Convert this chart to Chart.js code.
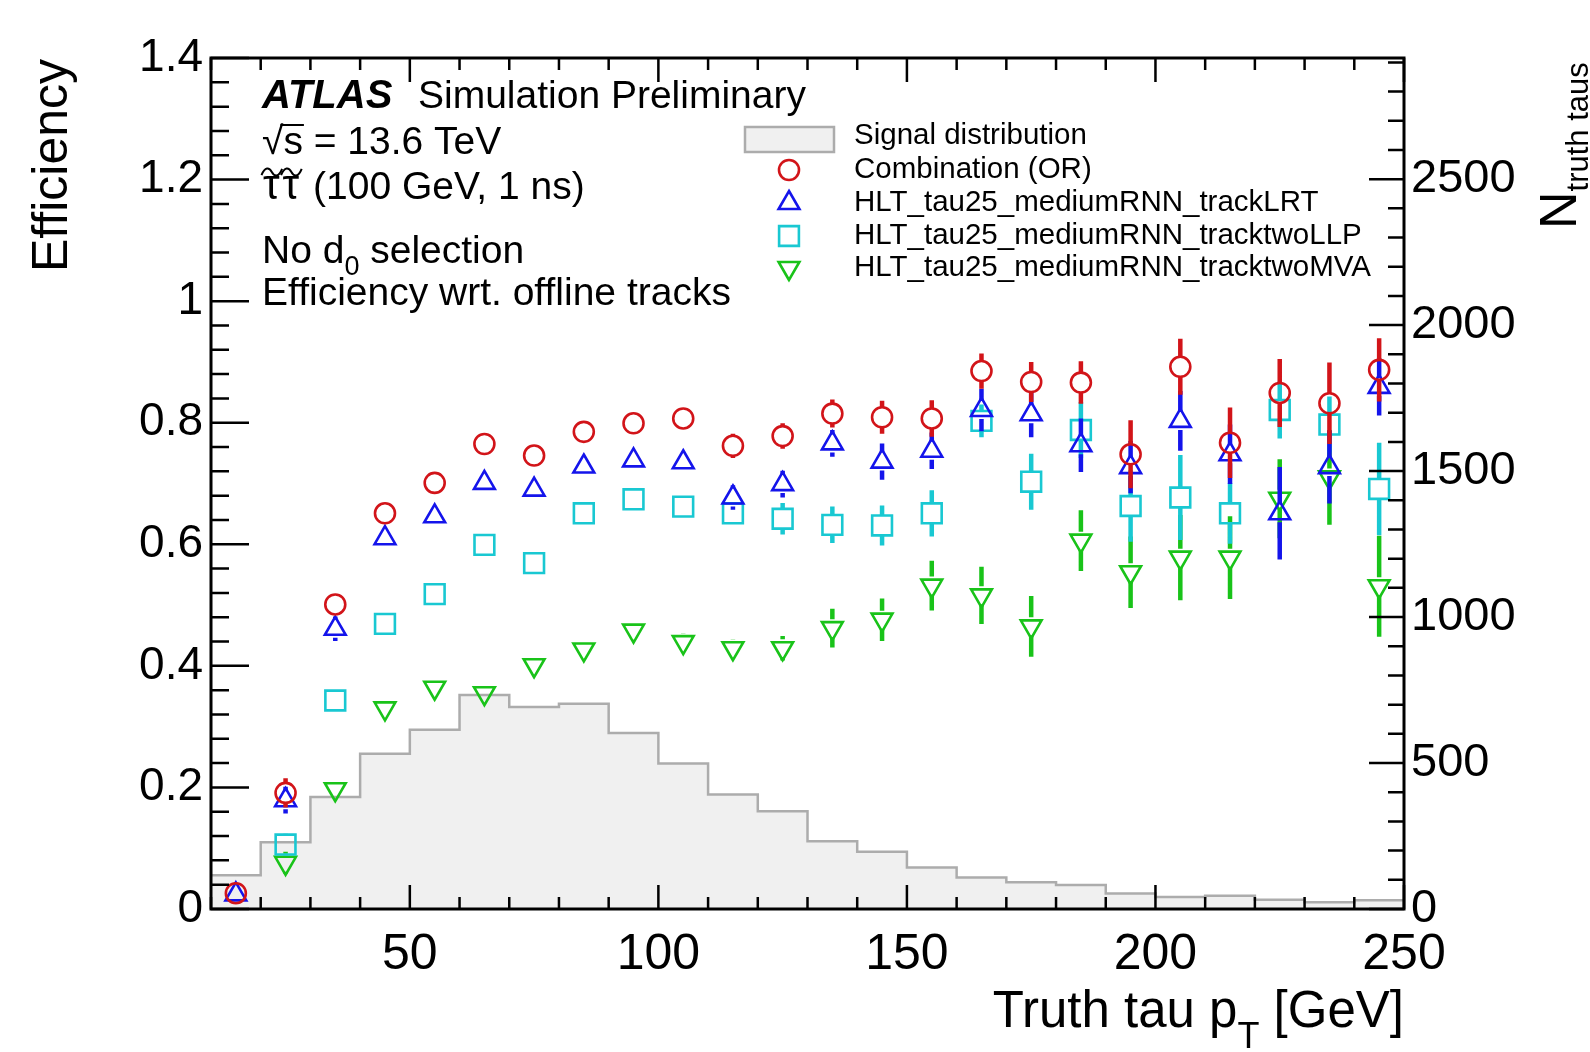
<!DOCTYPE html>
<html>
<head>
<meta charset="utf-8">
<script src="https://cdn.jsdelivr.net/npm/chart.js@4.4.1/dist/chart.umd.min.js"></script>
<style>
  html, body { margin: 0; padding: 0; background: #fff; }
  canvas { display: block; }
</style>
</head>
<body>
<canvas id="chartCanvas" width="1590" height="1052"></canvas>
<script>
"use strict";

// bin centres in truth tau pT [GeV]
const ptBins = [15, 25, 35, 45, 55, 65, 75, 85, 95, 105, 115, 125, 135, 145, 155, 165, 175, 185, 195, 205, 215, 225, 235, 245];

// Combination (OR)
const effOR = [0.026, 0.191, 0.501, 0.651, 0.701, 0.765, 0.746, 0.785, 0.799, 0.807, 0.762, 0.778, 0.815, 0.809, 0.807, 0.885, 0.867, 0.866, 0.748, 0.892, 0.767, 0.849, 0.832, 0.887];
const errOR = [0.008, 0.024, 0.016, 0.012, 0.010, 0.008, 0.008, 0.008, 0.008, 0.009, 0.020, 0.021, 0.023, 0.027, 0.030, 0.029, 0.033, 0.035, 0.056, 0.046, 0.058, 0.056, 0.067, 0.052];

// HLT_tau25_mediumRNN_trackLRT
const effLRT = [0.024, 0.179, 0.461, 0.610, 0.646, 0.701, 0.690, 0.728, 0.738, 0.735, 0.677, 0.699, 0.766, 0.736, 0.754, 0.821, 0.814, 0.763, 0.727, 0.803, 0.748, 0.651, 0.727, 0.859];
const errLRT = [0.008, 0.022, 0.020, 0.013, 0.010, 0.009, 0.008, 0.008, 0.009, 0.012, 0.020, 0.022, 0.022, 0.030, 0.030, 0.035, 0.038, 0.044, 0.043, 0.049, 0.049, 0.076, 0.060, 0.047];

// HLT_tau25_mediumRNN_tracktwoLLP
const effLLP = [null, 0.106, 0.343, 0.469, 0.518, 0.599, 0.569, 0.651, 0.674, 0.662, 0.651, 0.642, 0.632, 0.631, 0.651, 0.803, 0.703, 0.788, 0.663, 0.677, 0.651, 0.821, 0.797, 0.691];
const errLLP = [0, 0.018, 0.016, 0.014, 0.012, 0.010, 0.010, 0.010, 0.011, 0.012, 0.014, 0.026, 0.030, 0.033, 0.038, 0.027, 0.046, 0.046, 0.059, 0.070, 0.050, 0.047, 0.046, 0.076];

// HLT_tau25_mediumRNN_tracktwoMVA
const effMVA = [null, 0.076, 0.197, 0.330, 0.364, 0.355, 0.401, 0.427, 0.458, 0.439, 0.429, 0.429, 0.462, 0.476, 0.532, 0.516, 0.465, 0.606, 0.554, 0.578, 0.578, 0.675, 0.710, 0.531];
const errMVA = [0, 0.018, 0.012, 0.012, 0.012, 0.010, 0.012, 0.012, 0.015, 0.015, 0.015, 0.020, 0.032, 0.035, 0.041, 0.047, 0.050, 0.050, 0.059, 0.070, 0.068, 0.065, 0.078, 0.083];

// signal distribution (right axis), bin low edges + last upper edge
const histEdges = [10, 20, 30, 40, 50, 60, 70, 80, 90, 100, 110, 120, 130, 140, 150, 160, 170, 180, 190, 200, 210, 220, 230, 240, 250];
const histCounts = [116, 229, 384, 532, 614, 733, 692, 703, 603, 498, 392, 335, 232, 196, 142, 108, 92, 82, 53, 41, 45, 32, 23, 30];

const xTicks = [50, 100, 150, 200, 250];
const effTicks = [0, 0.2, 0.4, 0.6, 0.8, 1, 1.2, 1.4];
const countTicks = [0, 500, 1000, 1500, 2000, 2500];

const FONT = '"Liberation Sans", Arial, Helvetica, sans-serif';
Chart.defaults.font.family = FONT;
Chart.defaults.color = '#000';

const RED = 'rgb(210, 20, 25)';
const BLUE = 'rgb(20, 20, 235)';
const CYAN = 'rgb(25, 200, 210)';
const GREEN = 'rgb(25, 195, 25)';

function points(eff, err) {
    const out = [];
    ptBins.forEach((x, i) => {
        if (eff[i] !== null) out.push({ x: x, y: eff[i], err: err[i] });
    });
    return out;
}

const histData = histCounts.map((c, i) => ({ x: histEdges[i], y: c }));
histData.push({ x: histEdges[histEdges.length - 1], y: histCounts[histCounts.length - 1] });

const markerBase = {
    backgroundColor: 'rgba(0,0,0,0)',
    borderWidth: 2.6,
    hoverRadius: 0
};

const datasets = [
    Object.assign({}, markerBase, {
        label: 'Combination (OR)', data: points(effOR, errOR), order: 0,
        pointStyle: 'circle', pointRadius: 10, borderColor: RED, gap: 10
    }),
    Object.assign({}, markerBase, {
        label: 'HLT_tau25_mediumRNN_trackLRT', data: points(effLRT, errLRT), order: 1,
        pointStyle: 'triangle', pointRadius: 12, borderColor: BLUE, gap: 9
    }),
    Object.assign({}, markerBase, {
        label: 'HLT_tau25_mediumRNN_tracktwoLLP', data: points(effLLP, errLLP), order: 2,
        pointStyle: 'rect', pointRadius: 14, borderColor: CYAN, gap: 10
    }),
    Object.assign({}, markerBase, {
        label: 'HLT_tau25_mediumRNN_tracktwoMVA', data: points(effMVA, errMVA), order: 3,
        pointStyle: 'triangle', rotation: 180, pointRadius: 12, borderColor: GREEN, gap: 9
    }),
    {
        type: 'line', label: 'Signal distribution', data: histData, yAxisID: 'y2', order: 10,
        stepped: true, fill: 'origin', backgroundColor: 'rgb(240, 240, 240)',
        borderColor: 'rgb(172, 172, 172)', borderWidth: 2.5, pointRadius: 0, tension: 0
    }
];

// vertical error bars, drawn just before each marker set
const errorBars = {
    id: 'errorBars',
    beforeDatasetDraw(chart, args) {
        const ds = chart.data.datasets[args.index];
        if (ds.gap === undefined) return;
        const ctx = chart.ctx;
        const ys = chart.scales.y, xs = chart.scales.x;
        ctx.save();
        ctx.strokeStyle = ds.borderColor;
        ctx.lineWidth = 4.5;
        ctx.lineCap = 'butt';
        ctx.beginPath();
        ds.data.forEach(p => {
            if (!p.err) return;
            const px = xs.getPixelForValue(p.x);
            const pc = ys.getPixelForValue(p.y);
            const top = ys.getPixelForValue(p.y + p.err);
            const bot = ys.getPixelForValue(p.y - p.err);
            if (top < pc - ds.gap) { ctx.moveTo(px, top); ctx.lineTo(px, pc - ds.gap); }
            if (bot > pc + ds.gap) { ctx.moveTo(px, pc + ds.gap); ctx.lineTo(px, bot); }
        });
        ctx.stroke();
        ctx.restore();
    }
};

// ROOT-like frame with inward ticks on all sides
const frameTicks = {
    id: 'frameTicks',
    afterDatasetsDraw(chart) {
        const { ctx, chartArea: a } = chart;
        const { x, y, y2 } = chart.scales;
        ctx.save();
        ctx.strokeStyle = '#000';
        ctx.lineWidth = 2.5;
        ctx.beginPath();
        for (let v = 10; v <= 250; v += 10) {
            const px = x.getPixelForValue(v);
            const len = v % 50 === 0 ? 24 : 12;
            ctx.moveTo(px, a.bottom); ctx.lineTo(px, a.bottom - len);
            ctx.moveTo(px, a.top); ctx.lineTo(px, a.top + len);
        }
        for (let i = 0; i <= 35; i++) {
            const py = y.getPixelForValue(i * 0.04);
            const len = i % 5 === 0 ? 38 : 18;
            ctx.moveTo(a.left, py); ctx.lineTo(a.left + len, py);
        }
        for (let v = 0; v <= 2900; v += 100) {
            const py = y2.getPixelForValue(v);
            const len = v % 500 === 0 ? 35 : 16;
            ctx.moveTo(a.right, py); ctx.lineTo(a.right - len, py);
        }
        ctx.stroke();
        ctx.lineWidth = 3;
        ctx.strokeRect(a.left, a.top, a.right - a.left, a.bottom - a.top);
        ctx.restore();
    }
};

function drawMarker(ctx, style, x, y, color, r, rot) {
    ctx.save();
    ctx.strokeStyle = color;
    ctx.fillStyle = 'rgba(0,0,0,0)';
    ctx.lineWidth = 2.6;
    Chart.helpers.drawPoint(ctx, { pointStyle: style, radius: r, rotation: rot || 0, borderWidth: 2.6 }, x, y);
    ctx.restore();
}

function tilde(ctx, cx, cy, w) {
    const h = 4;
    ctx.beginPath();
    ctx.moveTo(cx - w / 2, cy + h * 0.8);
    ctx.bezierCurveTo(cx - w / 3, cy - h * 1.4, cx - w / 8, cy - h * 1.2, cx, cy);
    ctx.bezierCurveTo(cx + w / 8, cy + h * 1.2, cx + w / 3, cy + h * 1.4, cx + w / 2, cy - h * 0.8);
    ctx.stroke();
}

// text block, legend and axis titles
const annotations = {
    id: 'annotations',
    afterDraw(chart) {
        const ctx = chart.ctx;
        ctx.save();
        ctx.fillStyle = '#000';
        ctx.strokeStyle = '#000';
        ctx.textBaseline = 'alphabetic';
        ctx.textAlign = 'left';

        ctx.font = 'italic bold 40px ' + FONT;
        ctx.fillText('ATLAS', 262, 108);
        ctx.font = '39px ' + FONT;
        ctx.fillText('Simulation Preliminary', 418, 108);

        // sqrt(s) with overline
        const w1 = ctx.measureText('√').width;
        const w2 = ctx.measureText('s').width;
        ctx.fillText('√s = 13.6 TeV', 262, 154);
        ctx.lineWidth = 2;
        ctx.beginPath();
        ctx.moveTo(262 + w1 - 3, 125); ctx.lineTo(262 + w1 + w2 + 1, 125);
        ctx.stroke();

        // stau pair: wider tau glyphs with tildes drawn on top
        ctx.font = '42px ' + FONT;
        const wTau = ctx.measureText('\u03C4').width + 3;
        ctx.fillText('\u03C4', 263, 199);
        ctx.fillText('\u03C4', 263 + wTau, 199);
        ctx.lineWidth = 2;
        tilde(ctx, 263 + wTau / 2 - 1, 172, wTau + 1);
        tilde(ctx, 263 + wTau * 1.5 - 1, 172, wTau + 1);
        ctx.font = '39px ' + FONT;
        ctx.fillText(' (100 GeV, 1 ns)', 263 + 2 * wTau, 199);

        const no = 'No d';
        ctx.fillText(no, 262, 263);
        const wNo = ctx.measureText(no).width;
        ctx.font = '27px ' + FONT;
        ctx.fillText('0', 262 + wNo, 275);
        const w0 = ctx.measureText('0').width;
        ctx.font = '39px ' + FONT;
        ctx.fillText(' selection', 262 + wNo + w0, 263);
        ctx.fillText('Efficiency wrt. offline tracks', 262, 305);

        // legend
        ctx.fillStyle = 'rgb(240, 240, 240)';
        ctx.fillRect(745, 127, 89, 25);
        ctx.strokeStyle = 'rgb(172, 172, 172)';
        ctx.lineWidth = 2.5;
        ctx.strokeRect(745, 127, 89, 25);
        const rows = [
            ['Signal distribution', null],
            ['Combination (OR)', ['circle', RED, 10, 0]],
            ['HLT_tau25_mediumRNN_trackLRT', ['triangle', BLUE, 12, 0]],
            ['HLT_tau25_mediumRNN_tracktwoLLP', ['rect', CYAN, 14, 0]],
            ['HLT_tau25_mediumRNN_tracktwoMVA', ['triangle', GREEN, 12, 180]]
        ];
        const rowY = [136, 170, 203, 236, 268];
        ctx.font = '29.5px ' + FONT;
        ctx.textBaseline = 'middle';
        rows.forEach((r, i) => {
            ctx.fillStyle = '#000';
            ctx.fillText(r[0], 854, rowY[i]);
            if (r[1]) drawMarker(ctx, r[1][0], 789, rowY[i], r[1][1], r[1][2], r[1][3]);
        });

        // x title
        ctx.fillStyle = '#000';
        ctx.textBaseline = 'alphabetic';
        ctx.font = '51px ' + FONT;
        const partA = 'Truth tau p', partB = ' [GeV]';
        const wA = ctx.measureText(partA).width;
        const wB = ctx.measureText(partB).width;
        ctx.font = '36px ' + FONT;
        const wT = ctx.measureText('T').width;
        const xEnd = chart.chartArea.right;
        const xStart = xEnd - wA - wT - wB;
        ctx.font = '51px ' + FONT;
        ctx.fillText(partA, xStart, 1027);
        ctx.fillText(partB, xStart + wA + wT, 1027);
        ctx.font = '36px ' + FONT;
        ctx.fillText('T', xStart + wA, 1048);

        // left y title
        ctx.save();
        ctx.translate(67, chart.chartArea.top + 1);
        ctx.rotate(-Math.PI / 2);
        ctx.textAlign = 'right';
        ctx.font = '50px ' + FONT;
        ctx.fillText('Efficiency', 0, 0);
        ctx.restore();

        // right y title
        ctx.save();
        ctx.translate(1576, 229);
        ctx.rotate(-Math.PI / 2);
        ctx.textAlign = 'left';
        ctx.font = '52px ' + FONT;
        ctx.fillText('N', 0, 0);
        const wN = ctx.measureText('N').width;
        ctx.font = '31px ' + FONT;
        ctx.fillText('truth taus', wN, 12);
        ctx.restore();

        ctx.restore();
    }
};

const ctx = document.getElementById('chartCanvas');

new Chart(ctx, {
    type: 'scatter',
    data: { datasets: datasets },
    options: {
        responsive: false,
        animation: false,
        devicePixelRatio: 1,
        layout: { padding: { top: 58, left: 0, right: 0, bottom: 0 } },
        plugins: {
            legend: { display: false },
            tooltip: { enabled: false }
        },
        scales: {
            x: {
                type: 'linear', position: 'bottom', min: 10, max: 250,
                grid: { display: false, drawTicks: false },
                border: { display: false },
                afterBuildTicks: s => { s.ticks = xTicks.map(v => ({ value: v })); },
                ticks: {
                    padding: 16, maxRotation: 0, autoSkip: false,
                    font: { size: 50 }, color: '#000',
                    callback: v => String(v)
                },
                afterFit: s => { s.height = 143; }
            },
            y: {
                type: 'linear', position: 'left', min: 0, max: 1.4,
                grid: { display: false, drawTicks: false },
                border: { display: false },
                afterBuildTicks: s => { s.ticks = effTicks.map(v => ({ value: v })); },
                ticks: {
                    padding: 8, autoSkip: false,
                    font: { size: 46 }, color: '#000',
                    callback: v => String(Math.round(v * 10) / 10)
                },
                afterFit: s => { s.width = 211; }
            },
            y2: {
                type: 'linear', position: 'right', min: 0, max: 2915,
                grid: { display: false, drawTicks: false },
                border: { display: false },
                afterBuildTicks: s => { s.ticks = countTicks.map(v => ({ value: v })); },
                ticks: {
                    padding: 7, autoSkip: false,
                    font: { size: 47 }, color: '#000',
                    callback: v => String(v)
                },
                afterFit: s => { s.width = 186; }
            }
        }
    },
    plugins: [errorBars, frameTicks, annotations]
});
</script>
</body>
</html>
